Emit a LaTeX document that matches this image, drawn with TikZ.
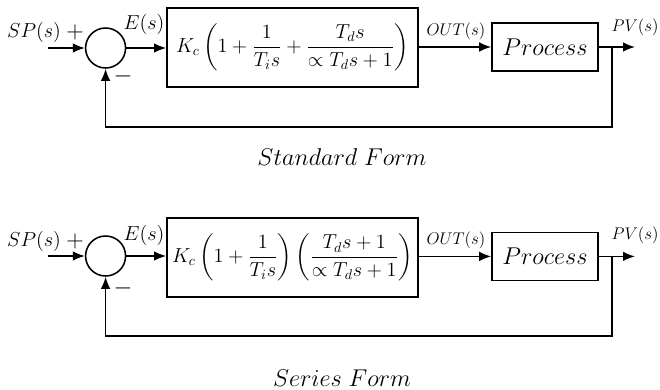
\documentclass[tikz,border=0pt]{standalone}
\usepackage{amsmath}
\usepackage{amssymb}
\usetikzlibrary{arrows.meta, positioning}

\begin{document}
\begin{tikzpicture}[
  sig/.style={line width=1.1pt, -{Latex[length=3mm,width=2.4mm]}},
  block/.style={draw, line width=1.1pt, inner sep=0pt},
  sumnode/.style={draw, circle, line width=1.1pt, minimum size=1cm, inner sep=0pt},
  lbl/.style={font=\fontsize{14}{16}\selectfont, inner sep=0pt},
  sign/.style={font=\fontsize{18}{20}\selectfont, inner sep=0pt},
  caption/.style={font=\fontsize{16}{18}\selectfont, inner sep=0pt}
]
  \useasboundingbox (0,0) rectangle (16.5,9.75);

  % --- Standard form ---
  \node[sumnode] (sumA) at (2.64,8.55) {};
  \coordinate (inA) at (1.2,8.55);
  \node[block, minimum width=6.275cm, minimum height=1.975cm] (ctrlA) at (7.31,8.56)
    {\fontsize{14}{16}\selectfont
     $\displaystyle K_c\left(1+\frac{1}{T_i s}+\frac{T_d s}{\propto T_d s+1}\right)$};
  \node[block, minimum width=2.65cm, minimum height=1.2cm] (procA) at (13.625,8.575)
    {\fontsize{18}{20}\selectfont $Process$};
  \coordinate (outA) at (15.875,8.575);
  \coordinate (tapA) at (15.3,8.575);
  \coordinate (lowA) at (15.3,6.575);
  % Labels
  \node[lbl] (spA) at (0.85,8.95) {$SP(s)$};
  \node[sign] (plusA) at (1.875,8.95) {$+$};
  \node[sign] (minusA) at (3.075,7.85) {$-$};
  \node[lbl] (eA) at (3.6,9.15) {$E(s)$};
  \node[lbl, font=\fontsize{13}{15}\selectfont] (uA) at (11.4,8.975) {$OUT(s)$};
  \node[lbl, font=\fontsize{13}{15}\selectfont, anchor=east] (pvA) at (16.47,9.075) {$PV(s)$};
  % Signals
  \draw[sig] (inA) -- (sumA.west);
  \draw[sig] (sumA.east) -- (sumA.east -| ctrlA.west);
  \draw[sig] (ctrlA.east |- procA.west) -- (procA.west);
  \draw[sig] (procA.east) -- (outA);
  \draw[sig] (tapA) -- (lowA) -- (lowA -| sumA.south) -- (sumA.south);
  \node[caption] (capA) at (8.55,5.825) {$Standard\ Form$};

  % --- Series form ---
  \node[sumnode] (sumB) at (2.64,3.35) {};
  \coordinate (inB) at (1.2,3.35);
  \node[block, minimum width=6.275cm, minimum height=1.975cm] (ctrlB) at (7.31,3.31)
    {\fontsize{14}{16}\selectfont
     $\displaystyle K_c\left(1+\frac{1}{T_i s}\right)\left(\frac{T_d s+1}{\propto T_d s+1}\right)$};
  \node[block, minimum width=2.65cm, minimum height=1.2cm] (procB) at (13.625,3.34)
    {\fontsize{18}{20}\selectfont $Process$};
  \coordinate (outB) at (15.875,3.34);
  \coordinate (tapB) at (15.3,3.34);
  \coordinate (lowB) at (15.3,1.35);
  % Labels
  \node[lbl] (spB) at (0.85,3.725) {$SP(s)$};
  \node[sign] (plusB) at (1.875,3.725) {$+$};
  \node[sign] (minusB) at (3.075,2.55) {$-$};
  \node[lbl] (eB) at (3.6,3.875) {$E(s)$};
  \node[lbl, font=\fontsize{13}{15}\selectfont] (uB) at (11.4,3.75) {$OUT(s)$};
  \node[lbl, font=\fontsize{13}{15}\selectfont, anchor=east] (pvB) at (16.47,3.875) {$PV(s)$};
  % Signals
  \draw[sig] (inB) -- (sumB.west);
  \draw[sig] (sumB.east) -- (sumB.east -| ctrlB.west);
  \draw[sig] (ctrlB.east |- procB.west) -- (procB.west);
  \draw[sig] (procB.east) -- (outB);
  \draw[sig] (tapB) -- (lowB) -- (lowB -| sumB.south) -- (sumB.south);
  \node[caption] (capB) at (8.55,0.3) {$Series\ Form$};
\end{tikzpicture}
\end{document}
